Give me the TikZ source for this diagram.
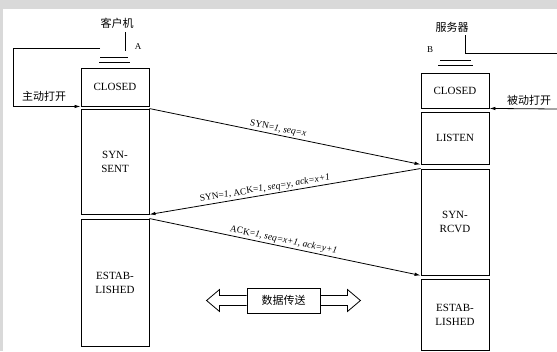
\documentclass[tikz,border=0pt]{standalone}
\usepackage{fontspec}
\setmainfont{Liberation Serif}
\newfontfamily\cjk{Noto Sans CJK SC}
\usetikzlibrary{arrows.meta}

\begin{document}
\begin{tikzpicture}
[x=1pt,y=-1pt,
 state/.style={draw,line width=0.9pt,minimum width=68pt,inner sep=0pt,align=center,
   font=\fontsize{11}{14}\selectfont},
 msg/.style={-{Latex[length=6pt,width=3.5pt]},line width=0.8pt},
 lbl/.style={sloped,above,inner sep=1.5pt,font=\fontsize{9.5}{10}\selectfont},
 zh/.style={font=\cjk\fontsize{11}{12}\selectfont}]
\useasboundingbox (0,0) rectangle (557,351);
\fill[black!15] (0,0) rectangle (557,351);
\fill[white] (3,9) rectangle (557,351);

% client side
\node[state,minimum height=38pt] (cclosed) at (115,87) {CLOSED};
\node[state,minimum height=105pt] (csent) at (115,161.5) {SYN-\\SENT};
\node[state,minimum height=127pt] (cest) at (115,282.5) {ESTAB-\\LISHED};

\node[zh] (client) at (117,23) {客户机};
\draw[line width=0.8pt] (125,32) -- (125,51);
\node[font=\small] (A) at (138,47) {A};
\draw[line width=0.8pt] (100,57) -- (128,57);
\draw[line width=0.8pt] (99,62) -- (130,62);
\draw[msg] (100,48) -- (13,48) |- (cclosed.south west);
\node[zh] (aopen) at (44,96) {主动打开};

% server side
\node[state,minimum height=35pt] (sclosed) at (455,90.5) {CLOSED};
\node[state,minimum height=52pt] (listen) at (455,138) {LISTEN};
\node[state,minimum height=106pt] (rcvd) at (455,222) {SYN-\\RCVD};
\node[state,minimum height=71pt] (sest) at (455,314.5) {ESTAB-\\LISHED};

\node[zh] (server) at (452,27) {服务器};
\draw[line width=0.8pt] (465,35) -- (465,53) -- (557,53);
\node[font=\small] (B) at (430,50) {B};
\draw[line width=0.8pt] (440,60) -- (471,60);
\draw[line width=0.8pt] (438,65) -- (473,65);
\draw[msg] (557,109) -- (sclosed.south east);
\node[zh] (popen) at (529,100) {被动打开};

% handshake
\draw[msg] (csent.north east) -- node[lbl,pos=0.47]
  {SYN=\textit{1}, \textit{seq=x}} (listen.south west);
\draw[msg,{Latex[length=6pt,width=3.5pt]}-] (csent.south east) -- node[lbl,pos=0.43]
  {SYN=\textit{1}, ACK=\textit{1}, \textit{seq=y}, \textit{ack=x+1}} (rcvd.north west);
\draw[msg] (cest.north east) -- node[lbl,pos=0.49]
  {ACK=\textit{1}, \textit{seq=x+1}, \textit{ack=y+1}} (rcvd.south west);

% data transfer
\node[draw,line width=0.9pt,minimum width=73pt,minimum height=25pt,zh] (data) at (283.5,300.5) {数据传送};
\draw[line width=0.8pt] (data.west) ++(0,-5) -- ++(-27,0) -- ++(0,-6) -- ++(-13,11)
  -- ++(13,11) -- ++(0,-6) -- ++(27,0);
\draw[line width=0.8pt] (data.east) ++(0,-5) -- ++(27,0) -- ++(0,-6) -- ++(13,11)
  -- ++(-13,11) -- ++(0,-6) -- ++(-27,0);
\end{tikzpicture}
\end{document}
